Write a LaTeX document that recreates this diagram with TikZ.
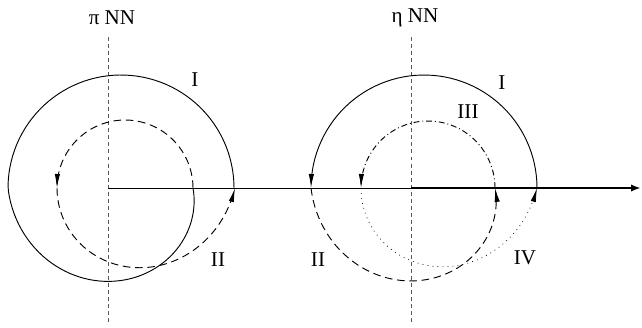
\documentclass[tikz,border=0pt]{standalone}
\usepackage{fontspec}
\setmainfont{Liberation Serif}
\usetikzlibrary{arrows.meta}
\tikzset{
  lbl/.style={font=\fontsize{18}{21}\selectfont, inner sep=0pt},
  tip/.style={-{Latex[length=4.2mm,width=1.6mm]}},
  axe/.style={black!65, dash pattern=on 3.4pt off 2.6pt},
  tirets/.style={dash pattern=on 6.5pt off 4pt},
  mixte/.style={dash pattern=on 5pt off 2.5pt on 0.8pt off 2.5pt},
  points/.style={line width=0.6pt, dash pattern=on 0.7pt off 3.6pt}
}
\begin{document}
\begin{tikzpicture}[x=0.03cm,y=-0.03cm,line width=0.8pt]
\useasboundingbox (0,0) rectangle (642,327);
% Centres des boucles
\def\ya{188}
\def\cxa{121}
\def\cxb{125}
\def\cxc{424}
\def\cxd{428}

% Axes verticaux
\coordinate (haut1) at (108,37);
\coordinate (bas1) at (108,323);
\coordinate (haut2) at (411,37);
\coordinate (bas2) at (411,323);
\draw[axe] (haut1) -- (bas1);
\draw[axe] (haut2) -- (bas2);
\node[lbl] (piNN) at (112,18) {π NN};
\node[lbl] (etaNN) at (415,18) {η NN};

% Axe horizontal
\coordinate (O1) at (108,\ya);
\coordinate (O2) at (411,\ya);
\coordinate (fin) at (641,\ya);
\draw (O1) -- (O2);
\draw[line width=2.2pt,-{Latex[length=3mm,width=2.2mm]}] (O2) -- (fin);

% Gauche : chemin I (trait plein)
\draw plot[domain=0:360,samples=120]
  ({\cxa+(113-41*max(0,(\x-180)/180))*cos(\x)},{\ya-(113-41*max(0,(\x-180)/180))*sin(\x)});
% Gauche : chemin II (tirets)
\draw[tirets,tip] plot[domain=0:180,samples=60] ({\cxb+68*cos(\x)},{\ya-68*sin(\x)});
\draw[tirets,tip] plot[domain=180:360,samples=60]
  ({\cxb+(68+42*((\x-180)/180)^2)*cos(\x)},{\ya-(68+42*((\x-180)/180)^2)*sin(\x)});

% Droite : chemin I (trait plein)
\draw[tip] plot[domain=0:180,samples=60] ({\cxc+113*cos(\x)},{\ya-113*sin(\x)});
% Droite : chemin II (tirets)
\draw[tirets,tip] plot[domain=180:360,samples=60]
  ({\cxc+(113-42*(\x-180)/180)*cos(\x)},{\ya-(113-42*(\x-180)/180)*sin(\x)});
% Droite : chemin III (mixte)
\draw[mixte,tip] plot[domain=0:180,samples=60] ({\cxd+67*cos(\x)},{\ya-67*sin(\x)});
% Droite : chemin IV (pointilles)
\draw[points,tip] plot[domain=180:360,samples=60]
  ({\cxd+(67+42*((\x-180)/180)^2)*cos(\x)},{\ya-(67+42*((\x-180)/180)^2)*sin(\x)});

% Etiquettes
\node[lbl] (Ia) at (195,80) {I};
\node[lbl] (IIa) at (218,260) {II};
\node[lbl] (IIb) at (318,260) {II};
\node[lbl] (Ib) at (502,83) {I};
\node[lbl] (IIIb) at (468,112) {III};
\node[lbl] (IVb) at (525,258) {IV};
\end{tikzpicture}
\end{document}
